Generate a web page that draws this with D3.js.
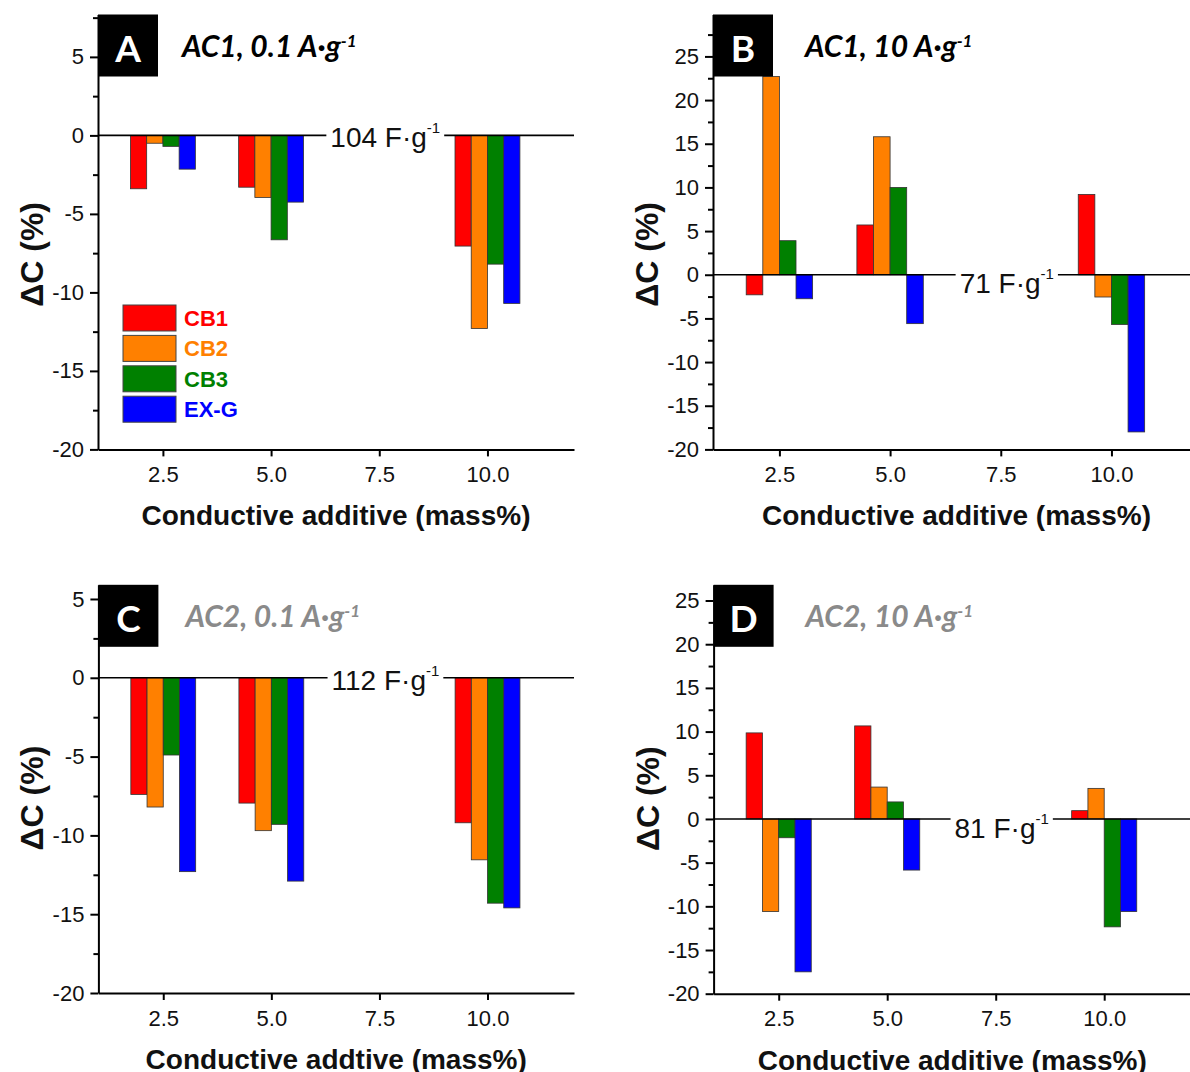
<!DOCTYPE html>
<html>
<head>
<meta charset="utf-8">
<script src="https://cdn.jsdelivr.net/npm/d3@7"></script>
<style>
  body { margin: 0; background: #fff; }
  svg { display: block; font-family: "Liberation Sans", Arial, sans-serif; }
  .axis .domain, .axis line { stroke: #000; stroke-width: 2; }
  .axis text { font-family: "Liberation Sans", Arial, sans-serif; font-size: 22px; fill: #111; }
</style>
</head>
<body>
<svg id="chart" width="1190" height="1072"></svg>
<script>
// categories
const additive = [2.5, 5.0, 10.0];
const series = ["CB1", "CB2", "CB3", "EX-G"];
const seriesColors = ["#ff0000", "#ff8000", "#008000", "#0000ff"];

// tick labels
const xTicks = [2.5, 5.0, 7.5, 10.0];
const yTicksLow = [-20, -15, -10, -5, 0, 5];
const yTicksHigh = [-20, -15, -10, -5, 0, 5, 10, 15, 20, 25];

// ΔC (%) rows: CB1, CB2, CB3, EX-G ; columns follow `additive`
const ac1Low  = [[-3.4, -3.3, -7.05], [-0.5, -3.95, -12.3], [-0.7, -6.65, -8.2], [-2.15, -4.25, -10.7]];
const ac1High = [[-2.3, 5.7, 9.2], [22.7, 15.8, -2.55], [3.9, 10.0, -5.7], [-2.75, -5.6, -18.0]];
const ac2Low  = [[-7.4, -7.95, -9.2], [-8.2, -9.7, -11.55], [-4.9, -9.3, -14.3], [-12.3, -12.9, -14.6]];
const ac2High = [[9.85, 10.65, 0.95], [-10.6, 3.65, 3.5], [-2.15, 1.95, -12.35], [-17.5, -5.85, -10.6]];

// reference capacitance at ΔC = 0 (F·g-1)
const baseCapacity = [104, 71, 112, 81];
const panelLetters = ["A", "B", "C", "D"];
const panelTitles = ["AC1, 0.1 A·g", "AC1, 10 A·g", "AC2, 0.1 A·g", "AC2, 10 A·g"];
const xTitles = ["Conductive additive (mass%)", "Conductive additive (mass%)",
                 "Conductive addtive (mass%)", "Conductive additive (mass%)"];

const svg = d3.select("#chart");
const xDomain = [1, 12];
const barWidth = 0.375; // mass% units

const panels = [
    { values: ac1Low,  yTicks: yTicksLow,  yMax: 7.7,  left: 98,    right: 574,  top: 14.5,  bottom: 449.4, titleColor: "#000",    titleGap: 24, labelDy: 12, legend: true },
    { values: ac1High, yTicks: yTicksHigh, yMax: 29.8, left: 713,   right: 1200, top: 14.5,  bottom: 449.4, titleColor: "#000",    titleGap: 32, labelDy: 18 },
    { values: ac2Low,  yTicks: yTicksLow,  yMax: 5.9,  left: 98.4,  right: 574,  top: 584.8, bottom: 993,   titleColor: "#8a8a8a", titleGap: 27, labelDy: 12 },
    { values: ac2High, yTicks: yTicksHigh, yMax: 26.8, left: 713.6, right: 1191, top: 584.8, bottom: 993.7, titleColor: "#8a8a8a", titleGap: 32, labelDy: 19 }
];

panels.forEach((p, i) => drawPanel(p, i));

function drawPanel(p, i) {
    const g = svg.append("g");

    const x = d3.scaleLinear().domain(xDomain).range([p.left, p.right]);
    const y = d3.scaleLinear().domain([-20, p.yMax]).range([p.bottom, p.top]);

    // Bars
    const bars = [];
    p.values.forEach((vals, s) => vals.forEach((v, c) => bars.push({ s, c: additive[c], v })));

    g.selectAll("rect.bar")
        .data(bars)
        .join("rect")
        .attr("class", "bar")
        .attr("x", d => x(d.c + (d.s - 2) * barWidth))
        .attr("width", d => x(d.c + (d.s - 1) * barWidth) - x(d.c + (d.s - 2) * barWidth))
        .attr("y", d => y(Math.max(0, d.v)))
        .attr("height", d => Math.abs(y(d.v) - y(0)))
        .attr("fill", d => seriesColors[d.s])
        .attr("stroke", "#333")
        .attr("stroke-width", 0.8);

    // Zero line
    g.append("line")
        .attr("x1", x(xDomain[0])).attr("x2", x(xDomain[1]))
        .attr("y1", y(0)).attr("y2", y(0))
        .attr("stroke", "#000")
        .attr("stroke-width", 1.6);

    // Axes (plain hyphen for negatives, like the original)
    g.append("g")
        .attr("class", "axis")
        .attr("transform", `translate(${p.left},0)`)
        .call(d3.axisLeft(y).tickValues(p.yTicks).tickFormat(d => String(d))
            .tickSize(8).tickSizeOuter(0).tickPadding(6));

    const minor = p.yTicks.map(t => t + 2.5).filter(t => t < p.yMax);
    g.append("g")
        .attr("class", "axis")
        .attr("transform", `translate(${p.left},0)`)
        .call(d3.axisLeft(y).tickValues(minor).tickSize(5).tickFormat(""))
        .call(a => a.select(".domain").remove());

    g.append("g")
        .attr("class", "axis")
        .attr("transform", `translate(0,${p.bottom})`)
        .call(d3.axisBottom(x).tickValues(xTicks).tickFormat(d => d.toFixed(1))
            .tickSize(7).tickSizeOuter(0).tickPadding(10));

    // Axis titles
    g.append("text")
        .attr("transform", `translate(${p.left - 55},${p.bottom - 195}) rotate(-90)`)
        .attr("text-anchor", "middle")
        .attr("font-weight", "bold")
        .attr("font-size", 32)
        .attr("fill", "#111")
        .text("ΔC (%)");

    g.append("text")
        .attr("x", x((xDomain[0] + xDomain[1]) / 2))
        .attr("y", p.bottom + 76)
        .attr("text-anchor", "middle")
        .attr("font-weight", "bold")
        .attr("font-size", 28)
        .attr("fill", "#111")
        .text(xTitles[i]);

    // Reference capacitance label on the zero line
    const bg = g.append("rect").attr("fill", "#fff");
    const lbl = g.append("text")
        .attr("x", x(7.5) + 6)
        .attr("y", y(0) + p.labelDy)
        .attr("text-anchor", "middle")
        .attr("font-size", 28)
        .attr("fill", "#111");
    lbl.append("tspan").text(`${baseCapacity[i]} F·g`);
    lbl.append("tspan").attr("font-size", 15).attr("dy", -14).text("-1");
    const bb = lbl.node().getBBox();
    bg.attr("x", bb.x - 4).attr("y", bb.y).attr("width", bb.width + 8).attr("height", bb.height);

    // Panel letter box
    g.append("rect")
        .attr("x", p.left).attr("y", p.top)
        .attr("width", 60).attr("height", 62)
        .attr("fill", "#000");
    g.append("text")
        .attr("x", p.left + 30).attr("y", p.top + 47)
        .attr("text-anchor", "middle")
        .attr("font-family", "Lato, 'Open Sans', sans-serif")
        .attr("font-weight", "bold")
        .attr("font-size", 37)
        .attr("fill", "#fff")
        .text(panelLetters[i]);

    // Panel title
    const title = g.append("text")
        .attr("x", p.left + 60 + p.titleGap)
        .attr("y", p.top + 42)
        .attr("font-family", "Lato, 'Open Sans', sans-serif")
        .attr("font-style", "italic")
        .attr("font-weight", "bold")
        .attr("font-size", 30)
        .attr("fill", p.titleColor);
    title.append("tspan").text(panelTitles[i]);
    title.append("tspan").attr("font-size", 17).attr("dy", -10).text("-1");

    if (p.legend) drawLegend(g, p);
}

function drawLegend(g, p) {
    const lx = p.left + 25, ly = 305, pitch = 30.4;
    const items = g.selectAll("g.legend")
        .data(series)
        .join("g")
        .attr("class", "legend")
        .attr("transform", (d, k) => `translate(${lx},${ly + k * pitch})`);

    items.append("rect")
        .attr("width", 53).attr("height", 26)
        .attr("fill", (d, k) => seriesColors[k])
        .attr("stroke", "#444")
        .attr("stroke-width", 1);

    items.append("text")
        .attr("x", 61).attr("y", 21)
        .attr("font-weight", "bold")
        .attr("font-size", 22)
        .attr("fill", (d, k) => seriesColors[k])
        .text(d => d);
}
</script>
</body>
</html>
